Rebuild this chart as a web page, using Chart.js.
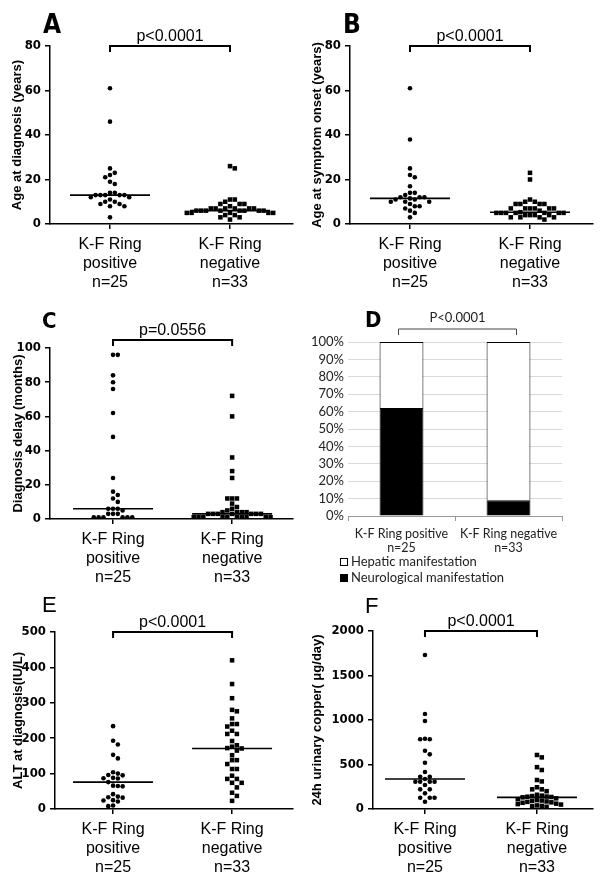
<!DOCTYPE html>
<html>
<head>
<meta charset="utf-8">
<script src="https://cdn.jsdelivr.net/npm/chart.js@4.4.1/dist/chart.umd.min.js"></script>
<style>
  body { margin: 0; background: #fff; width: 600px; height: 891px; position: relative; overflow: hidden; }
  canvas { position: absolute; }
</style>
</head>
<body>
<canvas id="pA" width="300" height="290" style="left:0;top:0"></canvas>
<canvas id="pB" width="300" height="290" style="left:300px;top:0"></canvas>
<canvas id="pC" width="300" height="300" style="left:0;top:290px"></canvas>
<canvas id="pD" width="300" height="300" style="left:300px;top:290px"></canvas>
<canvas id="pE" width="300" height="301" style="left:0;top:590px"></canvas>
<canvas id="pF" width="300" height="301" style="left:300px;top:590px"></canvas>
<script>
// groups
const groupLabels = [["K-F Ring", "positive", "n=25"], ["K-F Ring", "negative", "n=33"]];
const barLabels = [["K-F Ring positive", "n=25"], ["K-F Ring negative", "n=33"]];

// A: age at diagnosis (years)
const ageDiagPos = [61, 46, 25, 23, 22, 21, 19, 18, 14, 14, 13, 13, 13, 13, 13, 12, 12, 11, 10, 10, 9, 9, 8, 8, 3];
const ageDiagNeg = [26, 25, 11, 11, 10, 9, 9, 9, 8, 7, 7, 7, 7, 7, 7, 6, 6, 6, 6, 6, 6, 6, 6, 5, 5, 5, 5, 5, 4, 4, 3, 3, 2];

// B: age at symptom onset (years)
const ageOnsetPos = [61, 38, 25, 22, 21, 17, 14, 14, 13, 12, 12, 12, 11.5, 11, 11, 10, 10, 10, 9, 8, 8, 7, 6, 5, 3];
const ageOnsetNeg = [23, 20, 11, 10, 10, 9, 9, 9, 9, 7, 7, 7, 7, 7, 7, 6, 5.3, 5, 5, 5, 5, 5, 5, 5, 4, 4, 4, 4, 3, 3, 3, 3, 2];

// C: diagnosis delay (months)
const delayPos = [96, 96, 84, 80, 76, 62, 48, 24, 16, 14, 12, 10, 6, 6, 6, 5, 3, 3, 3, 1, 1, 1, 1, 1, 1];
const delayNeg = [72, 60, 36, 28, 24, 12, 12, 12, 9, 7, 6, 5, 4, 4, 4, 4, 3, 3, 3, 3, 3, 3, 3, 1, 1, 1, 1, 1, 1, 1, 1, 1, 1];

// D: manifestation (%)
const neuroPct = [62, 9];
const hepaticPct = [38, 91];

// E: ALT at diagnosis (IU/L)
const altPos = [234, 193, 182, 153, 143, 104, 100, 96, 95, 88, 87, 86, 76, 66, 65, 64, 42, 35, 33, 32, 25, 24, 21, 10, 8];
const altNeg = [420, 353, 313, 280, 276, 256, 240, 240, 233, 221, 212, 212, 192, 180, 176, 172, 171, 165, 152, 138, 138, 127, 113, 113, 94, 85, 85, 74, 74, 61, 46, 37, 23];

// F: 24h urinary copper (ug/day)
const copperPos = [1730, 1067, 989, 790, 783, 783, 655, 614, 520, 416, 363, 363, 337, 307, 307, 307, 307, 270, 221, 221, 176, 127, 127, 127, 82];
const copperNeg = [607, 580, 470, 438, 326, 310, 244, 221, 221, 200, 160, 150, 145, 140, 138, 135, 131, 120, 110, 100, 95, 90, 85, 80, 75, 70, 60, 55, 50, 40, 35, 30, 25];

const ARIAL = "'Liberation Sans', Arial, sans-serif";
const NARROW = "'Liberation Sans Narrow', 'DejaVu Sans Condensed', 'Liberation Sans', sans-serif";
const CAL = "Lato, 'Open Sans', sans-serif";

function median(a) {
  const s = a.slice().sort((p, q) => p - q), n = s.length;
  return n % 2 ? s[(n - 1) / 2] : (s[n / 2 - 1] + s[n / 2]) / 2;
}

// simple beeswarm: spread points sideways when they would overlap
function swarm(vals, cx, yMax, yPx, xUnit, gap) {
  const placed = [];
  return vals.slice().sort((a, b) => b - a).map(v => {
    const py = v / yMax * yPx;
    for (let k = 0; ; k++) {
      const off = k === 0 ? 0 : (k % 2 ? 1 : -1) * Math.ceil(k / 2) * gap;
      const hit = placed.some(p => Math.abs(p.px - off) < gap - 0.01 && Math.abs(p.py - py) < gap);
      if (!hit) {
        placed.push({ px: off, py: py });
        return { x: cx + off / xUnit, y: v };
      }
    }
  });
}

const overlay = {
  id: 'overlay',
  afterDraw(chart, args, o) {
    const ctx = chart.ctx, x = chart.scales.x, y = chart.scales.y;
    const x1 = x.getPixelForValue(o.from) + (o.dx1 || 0);
    const x2 = x.getPixelForValue(o.to) + (o.dx2 || 0);
    const by = y.getPixelForValue(y.max) - o.lift;
    ctx.save();
    ctx.strokeStyle = o.color;
    ctx.lineWidth = o.width;
    ctx.beginPath();
    ctx.moveTo(x1, by + o.tail);
    ctx.lineTo(x1, by);
    ctx.lineTo(x2, by);
    ctx.lineTo(x2, by + o.tail);
    ctx.stroke();
    ctx.fillStyle = o.textColor || '#000';
    ctx.font = o.pFont;
    ctx.textAlign = 'center';
    ctx.textBaseline = 'alphabetic';
    ctx.fillText(o.pText, (x1 + x2) / 2, by - o.pGap);
    ctx.fillStyle = '#000';
    ctx.font = o.letterFont;
    ctx.textAlign = 'left';
    ctx.fillText(o.letter, o.letterX, o.letterY);
    if (o.legend) {
      const L = o.legend;
      ctx.font = L.font;
      ctx.textBaseline = 'middle';
      chart.data.datasets.slice().reverse().forEach((ds, i) => {
        const yy = L.y + i * L.gap;
        ctx.fillStyle = ds.backgroundColor;
        ctx.fillRect(L.x, yy - 4, 8, 8);
        ctx.strokeStyle = '#000';
        ctx.lineWidth = 1;
        ctx.strokeRect(L.x + 0.5, yy - 3.5, 7, 7);
        ctx.fillStyle = '#222';
        ctx.fillText(ds.label, L.x + 11, yy);
      });
    }
    ctx.restore();
  }
};

function scatterPanel(id, p) {
  const g = p.geo;
  const xUnit = (g.r - g.l) / (p.xMax - p.xMin);
  const yPx = g.b - g.t;
  const hw = 40 / xUnit;
  const m1 = median(p.pos), m2 = median(p.neg);
  return new Chart(document.getElementById(id), {
    type: 'scatter',
    data: {
      datasets: [
        { data: swarm(p.pos, 1, p.yMax, yPx, xUnit, 4.8), pointStyle: 'circle', pointRadius: 2.3,
          backgroundColor: '#000', borderWidth: 0 },
        { data: swarm(p.neg, 2, p.yMax, yPx, xUnit, 4.8), pointStyle: 'rect', pointRadius: 3.2,
          backgroundColor: '#000', borderWidth: 0 },
        { type: 'line', data: [{ x: 1 - hw, y: m1 }, { x: 1 + hw, y: m1 }], showLine: true,
          borderColor: '#000', borderWidth: 1.6, pointRadius: 0 },
        { type: 'line', data: [{ x: 2 - hw, y: m2 }, { x: 2 + hw, y: m2 }], showLine: true,
          borderColor: '#000', borderWidth: 1.6, pointRadius: 0 }
      ]
    },
    options: {
      responsive: false,
      animation: false,
      layout: { padding: { left: 0, top: g.t, right: g.w - g.r, bottom: 0 } },
      plugins: {
        legend: { display: false },
        tooltip: { enabled: false },
        overlay: {
          from: 1, to: 2, lift: p.lift || 0, tail: 6, width: 2, color: '#000',
          pText: p.pText, pFont: "16px " + ARIAL, pGap: 5,
          letter: p.letter, letterFont: p.letterFont, letterX: p.letterX, letterY: p.letterY
        }
      },
      scales: {
        x: {
          type: 'linear', min: p.xMin, max: p.xMax,
          afterBuildTicks: s => { s.ticks = [{ value: 1 }, { value: 2 }]; },
          afterFit: s => { s.height = g.h - g.b; },
          ticks: { callback: (v, i) => groupLabels[i], color: '#000', padding: 6.5,
                   font: { family: ARIAL, size: 16, lineHeight: 1.18 }, maxRotation: 0, autoSkip: false },
          grid: { drawOnChartArea: false, color: '#000', lineWidth: 1.5, tickLength: 5 },
          border: { color: '#000', width: 1.5 }
        },
        y: {
          min: 0, max: p.yMax,
          afterFit: s => { s.width = g.l; },
          ticks: { stepSize: p.step, color: '#000', padding: 4, autoSkip: false, callback: v => String(v),
                   font: { family: NARROW, size: 13, weight: 'bold' } },
          grid: { drawOnChartArea: false, color: '#000', lineWidth: 1.5, tickLength: 5 },
          border: { color: '#000', width: 1.5 },
          title: { display: true, text: p.yTitle, color: '#000', padding: { top: p.titlePad, bottom: 0 },
                   font: { family: ARIAL, size: 13, weight: 'bold' } }
        }
      }
    },
    plugins: [overlay]
  });
}

const bigBold = "bold 26px " + NARROW;

scatterPanel('pA', {
  geo: { w: 300, h: 290, l: 50, r: 293, t: 46, b: 224 }, xMin: 0.5, xMax: 2.525,
  pos: ageDiagPos, neg: ageDiagNeg, yMax: 80, step: 20, yTitle: 'Age at diagnosis (years)', titlePad: 10,
  pText: 'p<0.0001', letter: 'A', letterFont: bigBold, letterX: 43, letterY: 33
});
scatterPanel('pB', {
  geo: { w: 300, h: 290, l: 50, r: 293, t: 46, b: 224 }, xMin: 0.5, xMax: 2.525,
  pos: ageOnsetPos, neg: ageOnsetNeg, yMax: 80, step: 20, yTitle: 'Age at symptom onset (years)', titlePad: 10,
  pText: 'p<0.0001', letter: 'B', letterFont: bigBold, letterX: 43, letterY: 33
});
scatterPanel('pC', {
  geo: { w: 300, h: 300, l: 50, r: 293, t: 58, b: 229 }, xMin: 0.471, xMax: 2.511,
  pos: delayPos, neg: delayNeg, yMax: 100, step: 20, yTitle: 'Diagnosis delay (months)', titlePad: 11, lift: 8,
  pText: 'p=0.0556', letter: 'C', letterFont: "bold 22px " + NARROW, letterX: 42, letterY: 38
});
scatterPanel('pE', {
  geo: { w: 300, h: 301, l: 55, r: 293, t: 42, b: 219 }, xMin: 0.512, xMax: 2.512,
  pos: altPos, neg: altNeg, yMax: 500, step: 100, yTitle: 'ALT at diagnosis(IU/L)', titlePad: 11,
  pText: 'p<0.0001', letter: 'E', letterFont: "22px " + ARIAL, letterX: 42, letterY: 22
});
scatterPanel('pF', {
  geo: { w: 300, h: 301, l: 73, r: 293, t: 41, b: 219 }, xMin: 0.536, xMax: 2.5,
  pos: copperPos, neg: copperNeg, yMax: 2000, step: 500, yTitle: '24h urinary copper( μg/day)', titlePad: 10,
  pText: 'p<0.0001', letter: 'F', letterFont: "22px " + ARIAL, letterX: 65, letterY: 23
});

// D: stacked percentage bars
new Chart(document.getElementById('pD'), {
  type: 'bar',
  data: {
    labels: barLabels,
    datasets: [
      { label: 'Neurological manifestation', data: neuroPct, backgroundColor: '#000', borderColor: '#000', borderWidth: 1 },
      { label: 'Hepatic manifestation', data: hepaticPct, backgroundColor: '#fff', borderColor: '#000', borderWidth: 1 }
    ]
  },
  options: {
    responsive: false,
    animation: false,
    layout: { padding: { left: 0, top: 52, right: 38, bottom: 0 } },
    datasets: { bar: { categoryPercentage: 1, barPercentage: 0.41 } },
    plugins: {
      legend: { display: false },
      tooltip: { enabled: false },
      overlay: {
        from: 0, to: 1, dx1: -3, dx2: 8, lift: 13, tail: 6, width: 1, color: '#444', textColor: '#222',
        pText: 'P<0.0001', pFont: "13px " + CAL, pGap: 7,
        letter: 'D', letterFont: "bold 22px " + NARROW, letterX: 65, letterY: 37,
        legend: { x: 40, y: 272, gap: 16, font: "13px " + CAL }
      }
    },
    scales: {
      x: {
        stacked: true,
        afterFit: s => { s.height = 74; },
        ticks: { color: '#222', padding: 6, font: { family: CAL, size: 12.5, lineHeight: 1.1 }, maxRotation: 0, autoSkip: false },
        grid: { drawOnChartArea: false, color: '#999', tickLength: 5 },
        border: { color: '#999', width: 1 }
      },
      y: {
        stacked: true, min: 0, max: 100,
        afterFit: s => { s.width = 48; },
        ticks: { stepSize: 10, autoSkip: false, color: '#222', padding: 4, callback: v => v + '%', font: { family: CAL, size: 13 } },
        grid: { color: '#d9d9d9', drawTicks: false },
        border: { display: false }
      }
    }
  },
  plugins: [overlay]
});
</script>
</body>
</html>
